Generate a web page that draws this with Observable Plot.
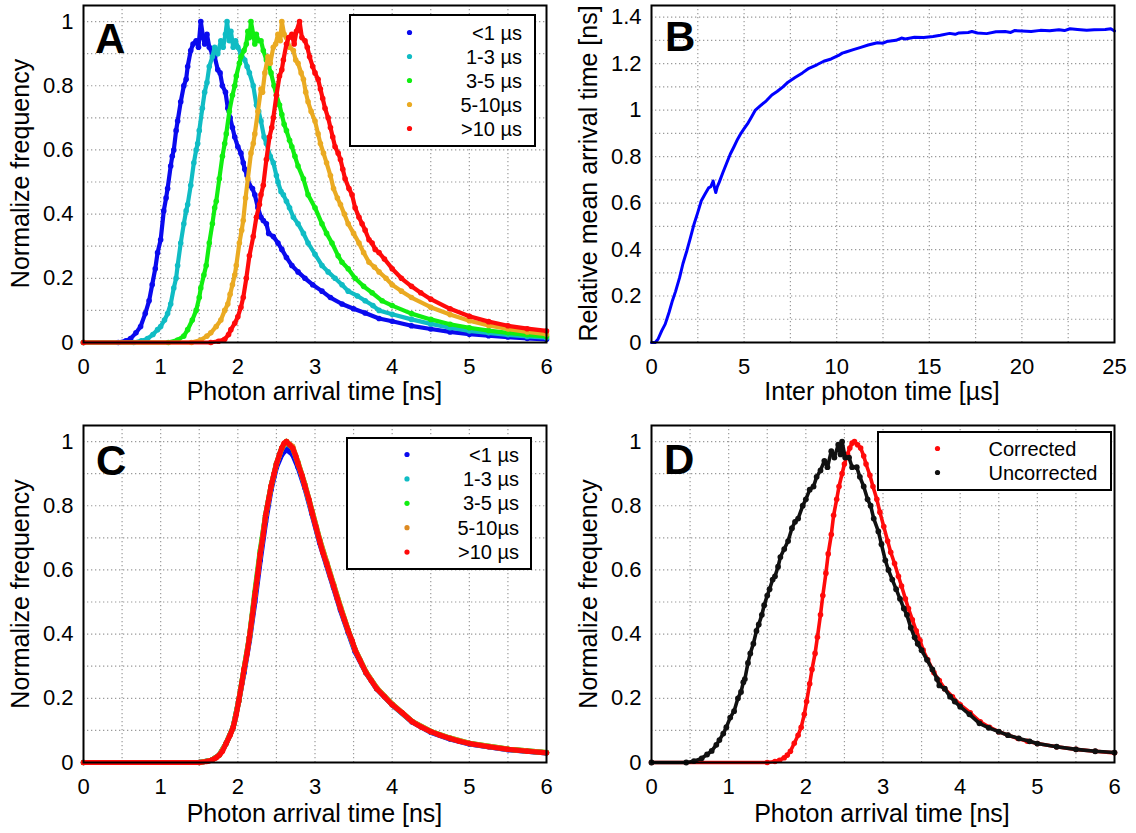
<!DOCTYPE html>
<html><head><meta charset="utf-8">
<script src="https://cdn.jsdelivr.net/npm/d3@7"></script>
<script src="https://cdn.jsdelivr.net/npm/@observablehq/plot@0.6"></script>
<style>
html,body{margin:0;padding:0;background:#fff;}
#wrap{position:relative;width:1136px;height:833px;overflow:hidden;background:#fff;font-family:"Liberation Sans",Arial,sans-serif;}
.panel{position:absolute;}
#overlay{position:absolute;left:0;top:0;pointer-events:none;}
</style></head><body><div id="wrap"></div>
<script>
// ---------------- DATA ----------------
// Panel A: photon arrival histograms per inter-photon-time class  [t (ns), normalized freq]
const aLt1 = [[0,0],[0.45,0],[0.55,0.005],[0.61,0.012],[0.68,0.03],[0.74,0.05],[0.8,0.09],[0.85,0.13],[0.89,0.18],[0.93,0.23],[0.96,0.28],[1.0,0.32],[1.04,0.41],[1.07,0.45],[1.09,0.48],[1.13,0.55],[1.15,0.58],[1.17,0.6],[1.2,0.66],[1.22,0.69],[1.26,0.75],[1.3,0.8],[1.33,0.82],[1.35,0.86],[1.39,0.91],[1.42,0.93],[1.46,0.94],[1.49,0.92],[1.52,1.0],[1.55,0.95],[1.57,0.93],[1.6,0.96],[1.63,0.92],[1.67,0.9],[1.7,0.89],[1.74,0.85],[1.77,0.84],[1.8,0.8],[1.84,0.78],[1.87,0.73],[1.9,0.7],[1.93,0.67],[1.96,0.64],[2.0,0.61],[2.04,0.59],[2.07,0.56],[2.09,0.54],[2.12,0.52],[2.15,0.49],[2.19,0.48],[2.22,0.46],[2.26,0.42],[2.3,0.39],[2.33,0.38],[2.37,0.37],[2.4,0.34],[2.46,0.33],[2.52,0.31],[2.57,0.29],[2.63,0.265],[2.7,0.24],[2.78,0.22],[2.87,0.2],[2.97,0.18],[3.09,0.16],[3.2,0.14],[3.35,0.12],[3.5,0.105],[3.65,0.092],[3.83,0.075],[4.0,0.066],[4.25,0.052],[4.5,0.042],[4.75,0.033],[5.0,0.026],[5.25,0.021],[5.5,0.017],[5.75,0.013],[6.0,0.01]];
const a1to3 = [[0,0],[0.65,0],[0.75,0.005],[0.83,0.012],[0.9,0.025],[0.96,0.04],[1.0,0.05],[1.05,0.07],[1.09,0.09],[1.13,0.12],[1.17,0.17],[1.2,0.2],[1.22,0.24],[1.26,0.31],[1.3,0.37],[1.33,0.41],[1.35,0.43],[1.39,0.49],[1.43,0.56],[1.46,0.6],[1.48,0.62],[1.5,0.66],[1.54,0.73],[1.57,0.78],[1.6,0.81],[1.63,0.86],[1.67,0.89],[1.7,0.92],[1.74,0.9],[1.78,0.94],[1.81,0.92],[1.84,0.96],[1.86,1.0],[1.89,0.94],[1.91,0.97],[1.94,0.92],[1.97,0.94],[2.0,0.92],[2.04,0.9],[2.09,0.88],[2.12,0.86],[2.15,0.84],[2.2,0.8],[2.24,0.74],[2.27,0.72],[2.3,0.69],[2.34,0.64],[2.37,0.62],[2.42,0.58],[2.46,0.56],[2.5,0.52],[2.52,0.5],[2.56,0.47],[2.59,0.46],[2.63,0.44],[2.67,0.42],[2.72,0.39],[2.78,0.37],[2.85,0.34],[2.91,0.31],[3.0,0.275],[3.09,0.24],[3.17,0.22],[3.26,0.2],[3.35,0.18],[3.43,0.16],[3.55,0.145],[3.65,0.13],[3.75,0.115],[3.83,0.1],[4.0,0.088],[4.25,0.072],[4.5,0.058],[4.75,0.046],[5.0,0.036],[5.25,0.03],[5.5,0.024],[5.75,0.019],[6.0,0.015]];
const a3to5 = [[0,0],[1.1,0],[1.22,0.008],[1.3,0.02],[1.35,0.04],[1.41,0.07],[1.46,0.1],[1.5,0.14],[1.52,0.17],[1.56,0.21],[1.59,0.24],[1.63,0.31],[1.67,0.37],[1.7,0.42],[1.72,0.44],[1.76,0.51],[1.8,0.58],[1.83,0.62],[1.85,0.65],[1.89,0.72],[1.93,0.77],[1.96,0.8],[1.98,0.83],[2.02,0.87],[2.04,0.89],[2.08,0.91],[2.11,0.93],[2.13,0.97],[2.15,0.95],[2.17,1.0],[2.2,0.96],[2.22,0.93],[2.24,0.96],[2.27,0.94],[2.3,0.94],[2.33,0.91],[2.37,0.88],[2.4,0.86],[2.43,0.84],[2.47,0.8],[2.5,0.77],[2.54,0.74],[2.57,0.71],[2.6,0.68],[2.63,0.66],[2.67,0.63],[2.7,0.61],[2.74,0.58],[2.78,0.55],[2.85,0.51],[2.91,0.46],[3.0,0.42],[3.09,0.37],[3.15,0.34],[3.22,0.31],[3.3,0.27],[3.35,0.25],[3.43,0.23],[3.52,0.2],[3.63,0.175],[3.74,0.155],[3.87,0.13],[4.0,0.115],[4.25,0.09],[4.5,0.072],[4.75,0.057],[5.0,0.046],[5.25,0.037],[5.5,0.03],[5.75,0.024],[6.0,0.019]];
const a5to10 = [[0,0],[1.4,0],[1.52,0.008],[1.6,0.02],[1.65,0.03],[1.72,0.05],[1.78,0.07],[1.83,0.1],[1.87,0.12],[1.9,0.15],[1.93,0.18],[1.96,0.21],[1.98,0.24],[2.02,0.31],[2.05,0.35],[2.07,0.38],[2.1,0.45],[2.13,0.51],[2.17,0.59],[2.2,0.62],[2.22,0.65],[2.26,0.72],[2.3,0.79],[2.32,0.78],[2.35,0.84],[2.39,0.89],[2.42,0.87],[2.46,0.92],[2.49,0.93],[2.52,0.96],[2.55,0.94],[2.57,1.0],[2.6,0.96],[2.63,0.95],[2.67,0.92],[2.72,0.91],[2.75,0.88],[2.78,0.87],[2.82,0.84],[2.85,0.82],[2.88,0.78],[2.91,0.75],[2.95,0.72],[3.0,0.69],[3.04,0.65],[3.07,0.62],[3.11,0.59],[3.15,0.56],[3.2,0.52],[3.24,0.48],[3.29,0.45],[3.33,0.43],[3.38,0.4],[3.43,0.37],[3.5,0.34],[3.57,0.31],[3.63,0.28],[3.7,0.25],[3.77,0.235],[3.83,0.22],[3.92,0.2],[4.0,0.18],[4.12,0.16],[4.25,0.14],[4.5,0.11],[4.75,0.087],[5.0,0.068],[5.25,0.053],[5.5,0.042],[5.75,0.033],[6.0,0.026]];
const aGt10 = [[0,0],[1.65,0],[1.75,0.004],[1.83,0.01],[1.88,0.025],[1.91,0.04],[1.96,0.06],[2.0,0.08],[2.04,0.11],[2.07,0.14],[2.11,0.2],[2.15,0.27],[2.2,0.33],[2.24,0.39],[2.28,0.43],[2.3,0.46],[2.33,0.49],[2.37,0.57],[2.41,0.64],[2.44,0.67],[2.46,0.7],[2.5,0.77],[2.54,0.83],[2.57,0.85],[2.59,0.88],[2.63,0.93],[2.66,0.95],[2.7,0.96],[2.73,0.93],[2.76,0.97],[2.8,1.0],[2.83,0.95],[2.87,0.94],[2.9,0.92],[2.93,0.89],[2.97,0.86],[3.0,0.84],[3.04,0.82],[3.07,0.79],[3.1,0.76],[3.13,0.73],[3.17,0.7],[3.2,0.67],[3.23,0.64],[3.26,0.61],[3.3,0.59],[3.33,0.57],[3.36,0.54],[3.39,0.51],[3.44,0.48],[3.48,0.46],[3.52,0.42],[3.57,0.39],[3.61,0.37],[3.65,0.35],[3.7,0.32],[3.74,0.31],[3.78,0.29],[3.83,0.28],[3.9,0.26],[4.0,0.23],[4.12,0.2],[4.25,0.175],[4.37,0.155],[4.5,0.135],[4.75,0.105],[5.0,0.082],[5.25,0.065],[5.5,0.052],[5.75,0.043],[6.0,0.036]];

// Panel B: relative mean arrival time vs inter photon time  [µs, ns]
const bMean = [[0,0],[0.2,0],[0.35,0.014],[0.55,0.05],[0.74,0.079],[0.95,0.13],[1.13,0.18],[1.3,0.22],[1.52,0.28],[1.7,0.34],[1.91,0.395],[2.1,0.45],[2.3,0.51],[2.5,0.56],[2.69,0.61],[2.9,0.64],[3.08,0.665],[3.2,0.67],[3.33,0.695],[3.42,0.66],[3.47,0.645],[3.55,0.67],[3.66,0.69],[3.85,0.73],[4.05,0.77],[4.25,0.81],[4.44,0.84],[4.65,0.875],[4.83,0.9],[5.0,0.92],[5.22,0.945],[5.4,0.97],[5.61,1.0],[5.9,1.02],[6.2,1.04],[6.5,1.065],[6.78,1.08],[7.1,1.1],[7.37,1.12],[7.75,1.14],[8.15,1.16],[8.5,1.18],[8.93,1.195],[9.3,1.21],[9.7,1.22],[10.1,1.235],[10.3,1.245],[10.5,1.25],[10.9,1.26],[11.3,1.27],[11.7,1.28],[12.2,1.29],[12.5,1.288],[12.7,1.295],[13.2,1.3],[13.5,1.31],[13.7,1.306],[14.2,1.313],[14.7,1.312],[15.2,1.317],[15.6,1.322],[16.1,1.33],[16.4,1.326],[16.6,1.332],[17.1,1.334],[17.3,1.338],[17.6,1.332],[18.1,1.329],[18.6,1.337],[19.1,1.338],[19.4,1.334],[19.6,1.342],[20.0,1.34],[20.5,1.338],[21.0,1.343],[21.5,1.341],[22.0,1.346],[22.3,1.342],[22.6,1.35],[23.0,1.347],[23.5,1.344],[23.9,1.346],[24.5,1.347],[24.8,1.35],[25,1.34]];

// Panel C: corrected histograms  [t (ns), normalized freq]
const cLt1 = [[0,0],[1.5,0],[1.66,0.007],[1.76,0.023],[1.85,0.06],[1.94,0.11],[2.01,0.19],[2.08,0.28],[2.15,0.38],[2.22,0.5],[2.29,0.63],[2.36,0.75],[2.43,0.85],[2.5,0.92],[2.57,0.96],[2.63,0.975],[2.71,0.96],[2.78,0.92],[2.87,0.855],[2.96,0.775],[3.06,0.685],[3.15,0.615],[3.24,0.545],[3.33,0.475],[3.43,0.405],[3.52,0.345],[3.66,0.28],[3.8,0.23],[4.0,0.18],[4.26,0.126],[4.5,0.094],[4.75,0.073],[5.0,0.058],[5.5,0.04],[6.0,0.03]];
const c1to3 = [[0,0],[1.5,0],[1.66,0.007],[1.76,0.023],[1.85,0.06],[1.94,0.11],[2.01,0.19],[2.08,0.29],[2.15,0.39],[2.22,0.52],[2.29,0.65],[2.36,0.77],[2.43,0.86],[2.5,0.93],[2.57,0.98],[2.63,0.995],[2.71,0.98],[2.78,0.93],[2.87,0.86],[2.96,0.78],[3.06,0.69],[3.15,0.62],[3.24,0.55],[3.33,0.48],[3.43,0.41],[3.52,0.35],[3.66,0.28],[3.8,0.23],[4.0,0.18],[4.26,0.127],[4.5,0.096],[4.75,0.075],[5.0,0.059],[5.5,0.041],[6.0,0.03]];
const c3to5 = [[0,0],[1.5,0],[1.66,0.007],[1.76,0.023],[1.85,0.06],[1.94,0.11],[2.01,0.19],[2.08,0.29],[2.15,0.39],[2.22,0.53],[2.29,0.66],[2.36,0.77],[2.43,0.86],[2.5,0.93],[2.57,0.98],[2.63,1.0],[2.71,0.98],[2.78,0.935],[2.87,0.865],[2.96,0.785],[3.06,0.695],[3.15,0.625],[3.24,0.555],[3.33,0.485],[3.43,0.412],[3.52,0.352],[3.66,0.282],[3.8,0.232],[4.0,0.182],[4.26,0.128],[4.5,0.097],[4.75,0.076],[5.0,0.06],[5.5,0.042],[6.0,0.031]];
const c5to10 = [[0,0],[1.5,0],[1.66,0.007],[1.76,0.023],[1.85,0.06],[1.94,0.11],[2.01,0.19],[2.08,0.29],[2.15,0.39],[2.22,0.52],[2.29,0.65],[2.36,0.77],[2.43,0.86],[2.5,0.93],[2.57,0.98],[2.63,1.0],[2.71,0.985],[2.78,0.935],[2.87,0.865],[2.96,0.785],[3.06,0.695],[3.15,0.625],[3.24,0.555],[3.33,0.485],[3.43,0.412],[3.52,0.352],[3.66,0.282],[3.8,0.232],[4.0,0.182],[4.26,0.128],[4.5,0.097],[4.75,0.076],[5.0,0.06],[5.5,0.042],[6.0,0.031]];
const cGt10 = [[0,0],[1.5,0],[1.6,0.003],[1.66,0.007],[1.72,0.015],[1.76,0.023],[1.8,0.035],[1.85,0.06],[1.9,0.085],[1.94,0.11],[1.98,0.15],[2.01,0.19],[2.05,0.245],[2.08,0.29],[2.12,0.34],[2.15,0.39],[2.19,0.46],[2.22,0.52],[2.26,0.59],[2.29,0.65],[2.33,0.71],[2.36,0.77],[2.4,0.82],[2.43,0.86],[2.47,0.9],[2.5,0.93],[2.54,0.96],[2.57,0.98],[2.6,0.995],[2.63,1.0],[2.67,0.99],[2.71,0.98],[2.75,0.955],[2.78,0.93],[2.83,0.895],[2.87,0.86],[2.92,0.82],[2.96,0.78],[3.01,0.735],[3.06,0.69],[3.1,0.655],[3.15,0.62],[3.2,0.58],[3.24,0.55],[3.29,0.51],[3.33,0.48],[3.38,0.445],[3.43,0.41],[3.48,0.38],[3.52,0.35],[3.58,0.32],[3.66,0.28],[3.73,0.255],[3.8,0.23],[3.9,0.205],[4.0,0.18],[4.13,0.155],[4.26,0.127],[4.38,0.11],[4.5,0.096],[4.62,0.085],[4.75,0.075],[4.87,0.066],[5.0,0.059],[5.25,0.049],[5.5,0.041],[5.75,0.035],[6.0,0.03]];

// Panel D: corrected vs uncorrected  [t (ns), normalized freq]
const dCorrected = [[0,0],[1.5,0],[1.6,0.003],[1.66,0.007],[1.72,0.015],[1.76,0.023],[1.8,0.035],[1.85,0.06],[1.9,0.085],[1.94,0.11],[1.98,0.15],[2.01,0.19],[2.05,0.245],[2.08,0.29],[2.12,0.34],[2.15,0.39],[2.19,0.46],[2.22,0.52],[2.26,0.59],[2.29,0.65],[2.33,0.71],[2.36,0.77],[2.4,0.82],[2.43,0.86],[2.47,0.9],[2.5,0.93],[2.54,0.96],[2.57,0.98],[2.6,0.995],[2.63,1.0],[2.67,0.99],[2.71,0.98],[2.75,0.955],[2.78,0.93],[2.83,0.895],[2.87,0.86],[2.92,0.82],[2.96,0.78],[3.01,0.735],[3.06,0.69],[3.1,0.655],[3.15,0.62],[3.2,0.58],[3.24,0.55],[3.29,0.51],[3.33,0.48],[3.38,0.445],[3.43,0.41],[3.48,0.38],[3.52,0.35],[3.58,0.32],[3.66,0.28],[3.73,0.255],[3.8,0.23],[3.9,0.205],[4.0,0.18],[4.13,0.155],[4.26,0.127],[4.38,0.11],[4.5,0.096],[4.62,0.085],[4.75,0.075],[4.87,0.066],[5.0,0.059],[5.25,0.049],[5.5,0.041],[5.75,0.035],[6.0,0.03]];
const dUncorrected = [[0,0],[0.45,0],[0.55,0.004],[0.65,0.013],[0.72,0.025],[0.78,0.036],[0.84,0.055],[0.88,0.07],[0.93,0.09],[0.97,0.11],[1.02,0.14],[1.07,0.16],[1.12,0.2],[1.16,0.22],[1.19,0.25],[1.21,0.26],[1.25,0.31],[1.28,0.34],[1.32,0.37],[1.36,0.41],[1.39,0.43],[1.43,0.46],[1.46,0.49],[1.5,0.52],[1.53,0.54],[1.57,0.57],[1.6,0.58],[1.64,0.61],[1.67,0.64],[1.72,0.665],[1.77,0.69],[1.82,0.73],[1.86,0.75],[1.9,0.76],[1.96,0.8],[2.0,0.82],[2.05,0.85],[2.1,0.86],[2.14,0.89],[2.19,0.91],[2.24,0.94],[2.28,0.92],[2.33,0.97],[2.37,0.95],[2.42,0.99],[2.45,0.96],[2.47,1.0],[2.51,0.95],[2.56,0.95],[2.6,0.92],[2.66,0.92],[2.7,0.89],[2.75,0.86],[2.8,0.82],[2.84,0.8],[2.88,0.76],[2.94,0.72],[2.98,0.68],[3.03,0.63],[3.07,0.6],[3.12,0.57],[3.17,0.54],[3.22,0.51],[3.27,0.48],[3.31,0.46],[3.36,0.42],[3.41,0.39],[3.45,0.37],[3.5,0.35],[3.57,0.32],[3.64,0.29],[3.7,0.26],[3.73,0.24],[3.8,0.23],[3.87,0.205],[3.93,0.19],[4.0,0.174],[4.12,0.15],[4.25,0.122],[4.37,0.108],[4.5,0.096],[4.62,0.085],[4.76,0.075],[4.9,0.066],[5.0,0.059],[5.25,0.049],[5.5,0.041],[5.75,0.035],[6.0,0.031]];

// Legends / labels / ticks
const classLabels = ["<1 µs", "1-3 µs", "3-5 µs", "5-10µs", ">10 µs"];
const classColorsA = ["#0a0aee", "#10bcc4", "#11ee11", "#eaaa22", "#ff0a0a"];
const classColorsC = ["#0a0aee", "#10bcc4", "#11ee11", "#dd8a22", "#ff0a0a"];
const dLabels = ["Corrected", "Uncorrected"];
const dColors = ["#ff0a0a", "#111111"];
const timeTicks = [0, 1, 2, 3, 4, 5, 6];
const timeGrid = [0.5, 1, 1.5, 2, 2.5, 3, 3.5, 4, 4.5, 5, 5.5];
const freqTicks = [0, 0.2, 0.4, 0.6, 0.8, 1];
const freqGrid = [0.1, 0.2, 0.3, 0.4, 0.5, 0.6, 0.7, 0.8, 0.9, 1.0];
const ipTicks = [0, 5, 10, 15, 20, 25];
const ipGrid = [2.5, 5, 7.5, 10, 12.5, 15, 17.5, 20, 22.5];
const meanTicks = [0, 0.2, 0.4, 0.6, 0.8, 1, 1.2, 1.4];
const meanGrid = [0.1, 0.2, 0.3, 0.4, 0.5, 0.6, 0.7, 0.8, 0.9, 1.0, 1.1, 1.2, 1.3, 1.4];

// ---------------- DRAW ----------------
const wrap = document.getElementById("wrap");
const fmt = d => String(+(+d).toFixed(1));
const FONT = "'Liberation Sans', Arial, sans-serif";

function makePanel({left, top, xDomain, yDomain, xTicks, yTicks, xGrid, yGrid, series, lineWidth = 4.2, dotR = 2.8}) {
  const marks = [
    Plot.gridX(xGrid, {stroke: "#9a9a9a", strokeOpacity: 1, strokeWidth: 1.2, strokeDasharray: "1.3,2.7"}),
    Plot.gridY(yGrid, {stroke: "#9a9a9a", strokeOpacity: 1, strokeWidth: 1.2, strokeDasharray: "1.3,2.7"})
  ];
  for (const s of series) {
    marks.push(Plot.line(s.data, {x: d => d[0], y: d => d[1], stroke: s.color, strokeWidth: s.lw ?? lineWidth, strokeLinejoin: "round", strokeLinecap: "round"}));
    if (s.dots !== false) marks.push(Plot.dot(s.data, {x: d => d[0], y: d => d[1], r: s.r ?? dotR, fill: s.color, stroke: "none"}));
  }
  marks.push(
    Plot.axisX(xTicks, {tickSize: 0, tickPadding: 16, tickFormat: fmt, label: null}),
    Plot.axisY(yTicks, {tickSize: 0, tickPadding: 10, tickFormat: fmt, label: null}),
    Plot.frame({stroke: "#000", strokeWidth: 2})
  );
  const svg = Plot.plot({
    width: 568, height: 416,
    marginLeft: 83, marginRight: 22, marginTop: 5, marginBottom: 74,
    x: {domain: xDomain, label: null},
    y: {domain: yDomain, label: null},
    style: {fontFamily: FONT, fontSize: "22px", background: "transparent", color: "#000", overflow: "visible"},
    marks
  });
  svg.classList.add("panel");
  svg.style.left = left + "px";
  svg.style.top = top + "px";
  wrap.appendChild(svg);
}

makePanel({left: 0, top: 0, xDomain: [0, 6], yDomain: [0, 1.05], xTicks: timeTicks, yTicks: freqTicks, xGrid: timeGrid, yGrid: freqGrid,
  series: [aLt1, a1to3, a3to5, a5to10, aGt10].map((data, i) => ({data, color: classColorsA[i]}))});
makePanel({left: 568, top: 0, xDomain: [0, 25], yDomain: [0, 1.45], xTicks: ipTicks, yTicks: meanTicks, xGrid: ipGrid, yGrid: meanGrid,
  series: [{data: bMean, color: "#0000ff", lw: 3, dots: false}]});
makePanel({left: 0, top: 420, xDomain: [0, 6], yDomain: [0, 1.05], xTicks: timeTicks, yTicks: freqTicks, xGrid: timeGrid, yGrid: freqGrid,
  series: [cLt1, c1to3, c3to5, c5to10, cGt10].map((data, i) => ({data, color: classColorsC[i], lw: 5.2})), dotR: 2.7});
makePanel({left: 568, top: 420, xDomain: [0, 6], yDomain: [0, 1.05], xTicks: timeTicks, yTicks: freqTicks, xGrid: timeGrid, yGrid: freqGrid,
  series: [{data: dCorrected, color: dColors[0], lw: 3.6}, {data: dUncorrected, color: dColors[1], lw: 3.6, r: 2.9}]});

// ---------------- OVERLAY TEXT & LEGENDS ----------------
const NS = "http://www.w3.org/2000/svg";
const ov = document.createElementNS(NS, "svg");
ov.setAttribute("id", "overlay");
ov.setAttribute("width", 1136); ov.setAttribute("height", 833);
ov.style.fontFamily = FONT;
wrap.appendChild(ov);
function el(tag, attrs, text) {
  const e = document.createElementNS(NS, tag);
  for (const k in attrs) e.setAttribute(k, attrs[k]);
  if (text != null) e.textContent = text;
  ov.appendChild(e); return e;
}
// axis titles
el("text", {x: 314.5, y: 400, "text-anchor": "middle", "font-size": 25}, "Photon arrival time [ns]");
el("text", {x: 882, y: 400, "text-anchor": "middle", "font-size": 25}, "Inter photon time [µs]");
el("text", {x: 314.5, y: 822, "text-anchor": "middle", "font-size": 25}, "Photon arrival time [ns]");
el("text", {x: 882, y: 822, "text-anchor": "middle", "font-size": 25}, "Photon arrival time [ns]");
el("text", {transform: "translate(29,173.5) rotate(-90)", "text-anchor": "middle", "font-size": 25}, "Normalize frequency");
el("text", {transform: "translate(597,173.5) rotate(-90)", "text-anchor": "middle", "font-size": 25}, "Relative mean arrival time [ns]");
el("text", {transform: "translate(29,594) rotate(-90)", "text-anchor": "middle", "font-size": 25}, "Normalize frequency");
el("text", {transform: "translate(597,594) rotate(-90)", "text-anchor": "middle", "font-size": 25}, "Normalize frequency");
// panel letters
el("text", {x: 95, y: 53, "font-size": 42, "font-weight": "bold"}, "A");
el("text", {x: 665, y: 51, "font-size": 42, "font-weight": "bold"}, "B");
el("text", {x: 96, y: 475, "font-size": 42, "font-weight": "bold"}, "C");
el("text", {x: 664, y: 474, "font-size": 42, "font-weight": "bold"}, "D");
// legends
function legendBox(x0, y0, x1, y1) {
  el("rect", {x: x0, y: y0, width: x1 - x0, height: y1 - y0, fill: "#fff", stroke: "#000", "stroke-width": 2});
}
legendBox(350, 15, 535, 146);
classLabels.forEach((lab, i) => {
  const cy = 32.5 + i * 24;
  el("circle", {cx: 409.5, cy, r: 2.6, fill: classColorsA[i]});
  el("text", {x: 522, y: cy + 7, "text-anchor": "end", "font-size": 20}, lab);
});
legendBox(347, 438, 531, 569);
classLabels.forEach((lab, i) => {
  const cy = 454.5 + i * 24.4;
  el("circle", {cx: 407, cy, r: 2.6, fill: classColorsC[i]});
  el("text", {x: 519, y: cy + 7, "text-anchor": "end", "font-size": 20}, lab);
});
legendBox(878, 432, 1111, 490);
dLabels.forEach((lab, i) => {
  const cy = 448.5 + i * 24;
  el("circle", {cx: 937.5, cy, r: 2.6, fill: dColors[i]});
  el("text", {x: 988.5, y: cy + 7, "text-anchor": "start", "font-size": 20}, lab);
});
</script></body></html>
